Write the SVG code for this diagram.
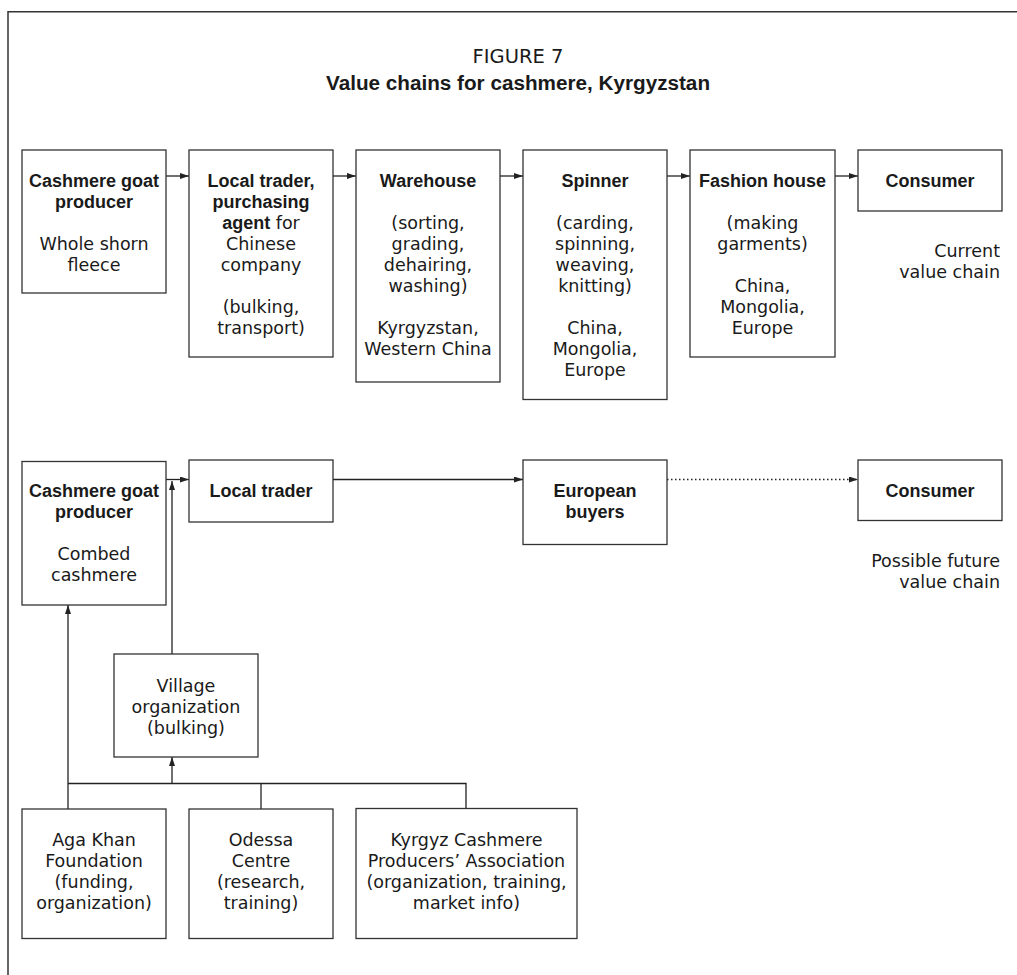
<svg xmlns="http://www.w3.org/2000/svg" width="1017" height="975" viewBox="0 0 1017 975">
<defs>
<style>
.bx{fill:#fff;stroke:#333;stroke-width:1.3}
.ln{fill:none;stroke:#222;stroke-width:1.3}
.t{font-family:"DejaVu Sans","Noto Sans","Liberation Sans",sans-serif;font-size:17.5px;fill:#1a1a1a;text-anchor:middle}
.b{font-family:"Liberation Sans","Arial",sans-serif;font-weight:bold;font-size:18px}
.r{text-anchor:end}
</style>
<marker id="ah" markerUnits="userSpaceOnUse" markerWidth="10" markerHeight="7" refX="9" refY="3" orient="auto">
<path d="M0,0 L9,3 L0,6 z" fill="#222"/>
</marker>
</defs>
<rect width="1017" height="975" fill="#fff"/>
<path d="M8,975 V11.7 H1017" fill="none" stroke="#333" stroke-width="1.5"/>
<g id="title">
<text class="t" x="518" y="62.5" style="font-size:19.5px">FIGURE 7</text>
<text class="t b" x="518" y="90" style="font-size:20.7px">Value chains for cashmere, Kyrgyzstan</text>
</g>
<g id="connectors">
<line class="ln" x1="166" y1="176" x2="189" y2="176" marker-end="url(#ah)"/>
<line class="ln" x1="333" y1="176" x2="356" y2="176" marker-end="url(#ah)"/>
<line class="ln" x1="500" y1="176" x2="523" y2="176" marker-end="url(#ah)"/>
<line class="ln" x1="667" y1="176" x2="690" y2="176" marker-end="url(#ah)"/>
<line class="ln" x1="835" y1="176" x2="858" y2="176" marker-end="url(#ah)"/>
<line class="ln" x1="166" y1="479.5" x2="189" y2="479.5" marker-end="url(#ah)"/>
<line class="ln" x1="333" y1="479.5" x2="523" y2="479.5" marker-end="url(#ah)"/>
<line class="ln" x1="667" y1="479.5" x2="858" y2="479.5" stroke-dasharray="1.5 2.5" marker-end="url(#ah)"/>
<line class="ln" x1="172" y1="654" x2="172" y2="481" marker-end="url(#ah)"/>
<line class="ln" x1="68" y1="809" x2="68" y2="605" marker-end="url(#ah)"/>
<line class="ln" x1="172" y1="783.5" x2="172" y2="757" marker-end="url(#ah)"/>
<polyline class="ln" points="68,783.5 466,783.5 466,808"/>
<line class="ln" x1="261" y1="783.5" x2="261" y2="809"/>
</g>
<g id="n1">
<rect class="bx" x="22" y="150" width="144" height="143"/>
<text class="t b" x="94" y="187">Cashmere goat</text>
<text class="t b" x="94" y="208">producer</text>
<text class="t" x="94" y="250">Whole shorn</text>
<text class="t" x="94" y="271">fleece</text>
</g>
<g id="n2">
<rect class="bx" x="189" y="150" width="144" height="207"/>
<text class="t b" x="261" y="187">Local trader,</text>
<text class="t b" x="261" y="208">purchasing</text>
<text class="t" x="261" y="229"><tspan class="b">agent</tspan> for</text>
<text class="t" x="261" y="250">Chinese</text>
<text class="t" x="261" y="271">company</text>
<text class="t" x="261" y="313">(bulking,</text>
<text class="t" x="261" y="334">transport)</text>
</g>
<g id="n3">
<rect class="bx" x="356" y="150" width="144" height="232"/>
<text class="t b" x="428" y="187">Warehouse</text>
<text class="t" x="428" y="229">(sorting,</text>
<text class="t" x="428" y="250">grading,</text>
<text class="t" x="428" y="271">dehairing,</text>
<text class="t" x="428" y="292">washing)</text>
<text class="t" x="428" y="334">Kyrgyzstan,</text>
<text class="t" x="428" y="355">Western China</text>
</g>
<g id="n4">
<rect class="bx" x="523" y="150" width="144" height="249.5"/>
<text class="t b" x="595" y="187">Spinner</text>
<text class="t" x="595" y="229">(carding,</text>
<text class="t" x="595" y="250">spinning,</text>
<text class="t" x="595" y="271">weaving,</text>
<text class="t" x="595" y="292">knitting)</text>
<text class="t" x="595" y="334">China,</text>
<text class="t" x="595" y="355">Mongolia,</text>
<text class="t" x="595" y="376">Europe</text>
</g>
<g id="n5">
<rect class="bx" x="690" y="150" width="145" height="207"/>
<text class="t b" x="762.5" y="187">Fashion house</text>
<text class="t" x="762.5" y="229">(making</text>
<text class="t" x="762.5" y="250">garments)</text>
<text class="t" x="762.5" y="292">China,</text>
<text class="t" x="762.5" y="313">Mongolia,</text>
<text class="t" x="762.5" y="334">Europe</text>
</g>
<g id="n6">
<rect class="bx" x="858" y="150" width="144" height="61"/>
<text class="t b" x="930" y="187">Consumer</text>
</g>
<g id="label-current">
<text class="t r" x="1000" y="256.5">Current</text>
<text class="t r" x="1000" y="277.5">value chain</text>
</g>
<g id="m1">
<rect class="bx" x="22" y="461.5" width="144" height="143.5"/>
<text class="t b" x="94" y="496.5">Cashmere goat</text>
<text class="t b" x="94" y="517.5">producer</text>
<text class="t" x="94" y="559.5">Combed</text>
<text class="t" x="94" y="580.5">cashmere</text>
</g>
<g id="m2">
<rect class="bx" x="189" y="460" width="144" height="62"/>
<text class="t b" x="261" y="497">Local trader</text>
</g>
<g id="m3">
<rect class="bx" x="523" y="460" width="144" height="84.5"/>
<text class="t b" x="595" y="497">European</text>
<text class="t b" x="595" y="518">buyers</text>
</g>
<g id="m4">
<rect class="bx" x="858" y="460" width="144" height="60.5"/>
<text class="t b" x="930" y="497">Consumer</text>
</g>
<g id="label-future">
<text class="t r" x="1000" y="567">Possible future</text>
<text class="t r" x="1000" y="588">value chain</text>
</g>
<g id="village">
<rect class="bx" x="114" y="654" width="144" height="103"/>
<text class="t" x="186" y="692">Village</text>
<text class="t" x="186" y="713">organization</text>
<text class="t" x="186" y="734">(bulking)</text>
</g>
<g id="aga">
<rect class="bx" x="22" y="809" width="144" height="129.5"/>
<text class="t" x="94" y="846">Aga Khan</text>
<text class="t" x="94" y="867">Foundation</text>
<text class="t" x="94" y="888">(funding,</text>
<text class="t" x="94" y="909">organization)</text>
</g>
<g id="odessa">
<rect class="bx" x="189" y="809" width="144" height="129.5"/>
<text class="t" x="261" y="846">Odessa</text>
<text class="t" x="261" y="867">Centre</text>
<text class="t" x="261" y="888">(research,</text>
<text class="t" x="261" y="909">training)</text>
</g>
<g id="kyrgyz">
<rect class="bx" x="356" y="808.5" width="221" height="130"/>
<text class="t" x="466.5" y="846">Kyrgyz Cashmere</text>
<text class="t" x="466.5" y="867">Producers’ Association</text>
<text class="t" x="466.5" y="888">(organization, training,</text>
<text class="t" x="466.5" y="909">market info)</text>
</g>
</svg>
